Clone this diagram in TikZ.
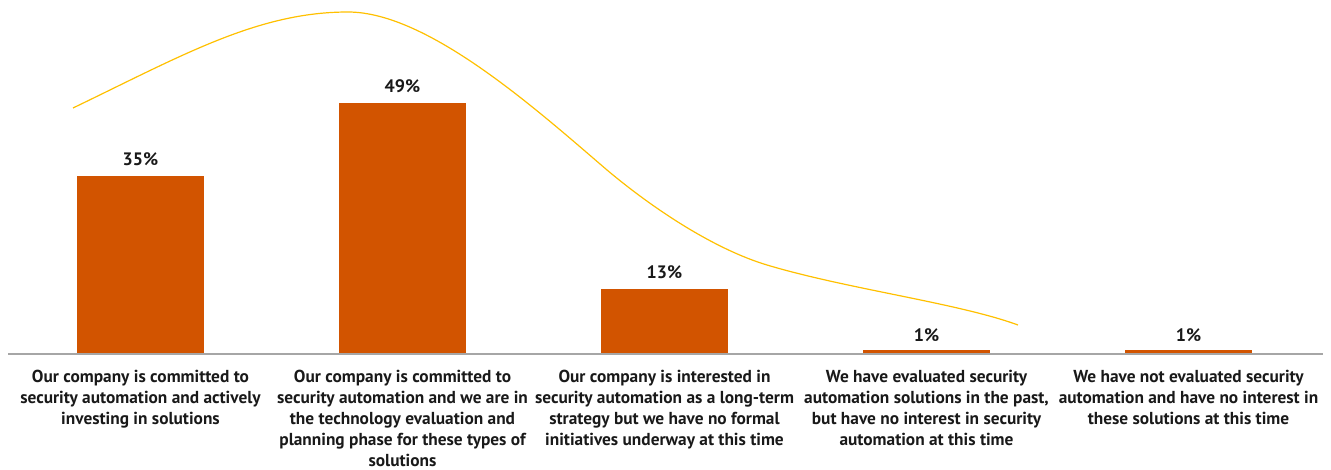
\documentclass[tikz,border=0pt]{standalone}
\usepackage{fontspec}
\setmainfont{PT Sans}
\begin{document}
\begin{tikzpicture}[x=0.75pt,y=-0.75pt,
  bar/.style={fill=barc,draw=none},
  pct/.style={anchor=base,font=\bfseries\fontsize{13.5}{15}\selectfont,text=black!90,inner sep=0pt},
  cat/.style={anchor=north,align=center,font=\bfseries\fontsize{13}{15.75}\selectfont,text=black!90,inner sep=0pt},
  trend/.style={draw=trendc,line width=0.9pt}]
\definecolor{barc}{RGB}{210,84,0}
\definecolor{trendc}{RGB}{255,192,0}
\definecolor{axisc}{RGB}{166,166,166}
\useasboundingbox (0,0) rectangle (1331,470);
% bars
\fill[bar] (77,176) rectangle (204,354);
\fill[bar] (339,103) rectangle (466,354);
\fill[bar] (601,289) rectangle (728,354);
\fill[bar] (863,350) rectangle (990,354);
\fill[bar] (1125,350) rectangle (1252,354);
% axis
\draw[axisc,line width=1.5pt] (8,354) -- (1323,354);
% value labels
\node[pct] (v1) at (140.5,166) {35\%};
\node[pct] (v2) at (402.5,93) {49\%};
\node[pct] (v3) at (664.5,279) {13\%};
\node[pct] (v4) at (926.5,341) {1\%};
\node[pct] (v5) at (1188.5,341) {1\%};
% category labels
\node[cat] (c1) at (140.5,370) {Our company is committed to\\security automation and actively\\investing in solutions};
\node[cat] (c2) at (402.5,370) {Our company is committed to\\security automation and we are in\\the technology evaluation and\\planning phase for these types of\\solutions};
\node[cat] (c3) at (664.5,370) {Our company is interested in\\security automation as a long-term\\strategy but we have no formal\\initiatives underway at this time};
\node[cat] (c4) at (926.5,370) {We have evaluated security\\automation solutions in the past,\\but have no interest in security\\automation at this time};
\node[cat] (c5) at (1188.5,370) {We have not evaluated security\\automation and have no interest in\\these solutions at this time};
% trend curve
\coordinate (t0) at (73,108);
\coordinate (t1) at (348,12);
\coordinate (t2) at (607,170);
\coordinate (t3) at (767,265);
\coordinate (t4) at (1018,325);
\draw[trend] (t0) .. controls (183,55) and (258,12) .. (t1)
  .. controls (428,12) and (537,110) .. (t2)
  .. controls (657,212) and (717,250) .. (t3)
  .. controls (847,289) and (958,303) .. (t4);
\end{tikzpicture}
\end{document}
